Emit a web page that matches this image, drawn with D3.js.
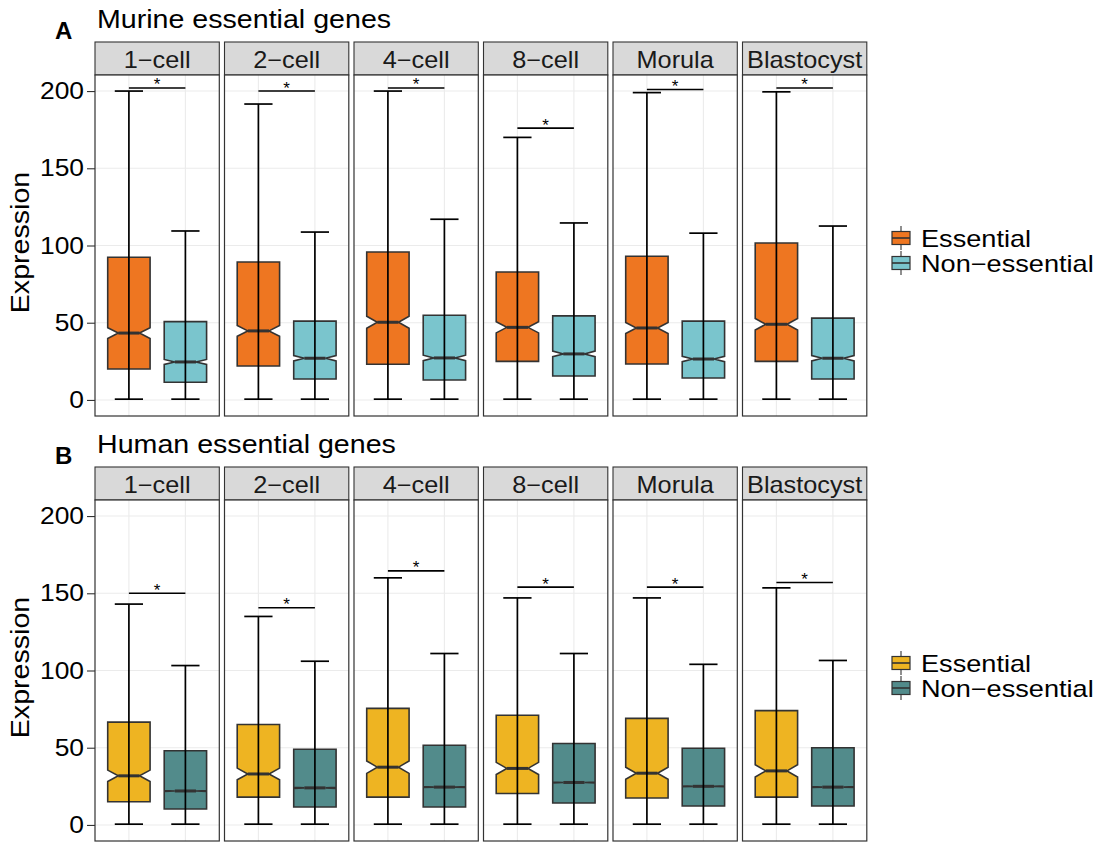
<!DOCTYPE html>
<html>
<head>
<meta charset="utf-8">
<script src="https://cdn.jsdelivr.net/npm/d3@7"></script>
<style>
body { margin: 0; background: #fff; }
text { font-family: "Liberation Sans", Arial, Helvetica, sans-serif; fill: #000; }
</style>
</head>
<body>
<svg id="chart" width="1102" height="842"></svg>
<script>
// stages (facets) and groups
var stages = ["1\u2212cell", "2\u2212cell", "4\u2212cell", "8\u2212cell", "Morula", "Blastocyst"];
var groups = ["Essential", "Non\u2212essential"];
var yTicks = [0, 50, 100, 150, 200];

// murine essential genes: box stats per stage
var murineEssLow   = [0.5, 0.5, 0.5, 0.5, 0.5, 0.5];
var murineEssQ1    = [20, 22, 23.1, 25, 23.3, 25];
var murineEssMed   = [43.3, 44.7, 50.3, 47, 46.6, 49];
var murineEssQ3    = [92.4, 89.3, 95.8, 82.8, 93, 101.6];
var murineEssHigh  = [200, 191.6, 200, 170, 199, 199.5];
var murineEssNotch = [3.5, 3.5, 3.9, 3.6, 3.6, 3.7];
var murineNonLow   = [0.5, 0.5, 0.5, 0.5, 0.5, 0.5];
var murineNonQ1    = [11.5, 13.6, 12.9, 15.5, 14.2, 13.6];
var murineNonMed   = [24.6, 27, 27.2, 29.8, 26.5, 27];
var murineNonQ3    = [50.7, 51, 54.8, 54.4, 51, 53];
var murineNonHigh  = [109.4, 108.7, 117, 114.6, 108, 112.6];
var murineNonNotch = [1.6, 1.7, 1.8, 1.8, 1.7, 1.7];
var murineSig      = [202, 200, 202, 176, 201, 202];

// human essential genes
var humanEssLow   = [0.5, 0.5, 0.5, 0.5, 0.5, 0.5];
var humanEssQ1    = [15, 18, 18, 20.4, 17.4, 18];
var humanEssMed   = [31.8, 33, 37.4, 36.6, 33.5, 35];
var humanEssQ3    = [66.6, 65, 75.5, 71, 69, 74];
var humanEssHigh  = [143, 135, 160, 147, 147, 153.5];
var humanEssNotch = [3.7, 3.8, 4, 3.9, 3.9, 4];
var humanNonLow   = [0.5, 0.5, 0.5, 0.5, 0.5, 0.5];
var humanNonQ1    = [10.3, 11.6, 11.6, 14.2, 12.3, 12.3];
var humanNonMed   = [22, 24, 24.5, 27.5, 25, 24.5];
var humanNonQ3    = [48, 49, 51.6, 52.7, 49.7, 50];
var humanNonHigh  = [103.2, 106, 111, 111, 104, 106.5];
var humanNonNotch = [0.3, 0.3, 0.3, 0.3, 0.3, 0.3];
var humanSig      = [150, 140.6, 164.5, 154, 154, 157];

var svg = d3.select("#chart");

var x0 = 95, pw = 124.3, gap = 5.2;
var stripH = 33, plotH = 341;
var stretch = 1.1;

function addText(g, x, y, str, size, anchor, weight, rot, sx)
{
	return g.append("text")
		.attr("transform", "translate(" + x + "," + y + ")" + (rot ? " rotate(" + rot + ")" : "") + " scale(" + (sx || stretch) + ",1)")
		.attr("text-anchor", anchor || "start")
		.style("font-size", size + "px")
		.style("font-weight", weight || "normal")
		.text(str);
}

function makeStats(low, q1, med, q3, high, notch)
{
	return stages.map(function(s, i){
		return {low: low[i], q1: q1[i], med: med[i], q3: q3[i], high: high[i], notch: notch[i]};
	});
}

function render_row(top, letter, title, ess, non, sig, colors)
{
	var plotTop = top + stripH, plotBottom = plotTop + plotH;

	var y = d3.scaleLinear().domain([-10.4, 210.4]).range([plotBottom, plotTop]);
	var xs = d3.scalePoint().domain(groups).range([0, pw]).padding(0.6);
	var step = xs.step();
	var boxW = step * 0.75, capW = step * 0.5;

	addText(svg, 55, top - 3, letter, 24, "start", "bold", 0, 1.0);
	addText(svg, 97, top - 14, title, 26);

	// y axis
	var axis = svg.append("g")
		.attr("transform", "translate(" + x0 + ",0)")
		.call(d3.axisLeft(y).tickValues(yTicks).tickSize(8).tickPadding(2));
	axis.select(".domain").remove();
	axis.selectAll(".tick line").attr("stroke", "#333").attr("stroke-width", 1.1);
	axis.selectAll(".tick text")
		.attr("fill", "#000")
		.style("font-size", "24px")
		.attr("transform", "scale(" + stretch + ",1)");

	addText(svg, 29, (plotTop + plotBottom) / 2 - 3, "Expression", 26, "middle", "normal", -90);

	stages.forEach(function(stage, i){
		var px = x0 + i * (pw + gap);
		var g = svg.append("g").attr("transform", "translate(" + px + ",0)");

		// strip
		g.append("rect")
			.attr("x", 0).attr("y", top)
			.attr("width", pw).attr("height", stripH)
			.style("fill", "#D9D9D9")
			.style("stroke", "#333")
			.style("stroke-width", 1.1);
		addText(g, pw / 2, top + 25.5, stage, 23, "middle").style("fill", "#1A1A1A");

		// panel + grid
		g.append("rect")
			.attr("x", 0).attr("y", plotTop)
			.attr("width", pw).attr("height", plotH)
			.style("fill", "#FFF");
		g.selectAll("line.hgrid")
			.data(yTicks)
			.enter()
			.append("line")
			.attr("class", "hgrid")
			.attr("x1", 0).attr("x2", pw)
			.attr("y1", function(d){ return y(d); })
			.attr("y2", function(d){ return y(d); })
			.style("stroke", "#EBEBEB")
			.style("stroke-width", 1.1);
		g.selectAll("line.vgrid")
			.data(groups)
			.enter()
			.append("line")
			.attr("class", "vgrid")
			.attr("x1", function(d){ return xs(d); })
			.attr("x2", function(d){ return xs(d); })
			.attr("y1", plotTop).attr("y2", plotBottom)
			.style("stroke", "#EBEBEB")
			.style("stroke-width", 1.1);

		var boxes = [
			{grp: groups[0], st: ess[i], fill: colors[0]},
			{grp: groups[1], st: non[i], fill: colors[1]}
		];

		// notched boxes
		g.selectAll("path.box")
			.data(boxes)
			.enter()
			.append("path")
			.attr("class", "box")
			.attr("d", function(d){
				var xl = xs(d.grp) - boxW / 2, xr = xs(d.grp) + boxW / 2;
				var ind = (xr - xl) * 0.25;
				var s = d.st;
				return "M" + xl + "," + y(s.q3) +
					"L" + xr + "," + y(s.q3) +
					"L" + xr + "," + y(s.med + s.notch) +
					"L" + (xr - ind) + "," + y(s.med) +
					"L" + xr + "," + y(s.med - s.notch) +
					"L" + xr + "," + y(s.q1) +
					"L" + xl + "," + y(s.q1) +
					"L" + xl + "," + y(s.med - s.notch) +
					"L" + (xl + ind) + "," + y(s.med) +
					"L" + xl + "," + y(s.med + s.notch) + "Z";
			})
			.style("fill", function(d){ return d.fill; })
			.style("stroke", "#333")
			.style("stroke-width", 1.6);

		g.selectAll("line.median")
			.data(boxes)
			.enter()
			.append("line")
			.attr("class", "median")
			.attr("x1", function(d){ return xs(d.grp) - boxW / 4; })
			.attr("x2", function(d){ return xs(d.grp) + boxW / 4; })
			.attr("y1", function(d){ return y(d.st.med); })
			.attr("y2", function(d){ return y(d.st.med); })
			.style("stroke", "#333")
			.style("stroke-width", 3);

		// whiskers (error bars)
		g.selectAll("line.whisk")
			.data(boxes)
			.enter()
			.append("line")
			.attr("class", "whisk")
			.attr("x1", function(d){ return xs(d.grp); })
			.attr("x2", function(d){ return xs(d.grp); })
			.attr("y1", function(d){ return y(d.st.low); })
			.attr("y2", function(d){ return y(d.st.high); })
			.style("stroke", "#000")
			.style("stroke-width", 1.7);
		["low", "high"].forEach(function(k){
			g.selectAll("line.cap-" + k)
				.data(boxes)
				.enter()
				.append("line")
				.attr("class", "cap-" + k)
				.attr("x1", function(d){ return xs(d.grp) - capW / 2; })
				.attr("x2", function(d){ return xs(d.grp) + capW / 2; })
				.attr("y1", function(d){ return y(d.st[k]); })
				.attr("y2", function(d){ return y(d.st[k]); })
				.style("stroke", "#000")
				.style("stroke-width", 1.7);
		});

		// significance bar
		g.append("line")
			.attr("x1", xs(groups[0])).attr("x2", xs(groups[1]))
			.attr("y1", y(sig[i])).attr("y2", y(sig[i]))
			.style("stroke", "#000")
			.style("stroke-width", 1.6);
		addText(g, (xs(groups[0]) + xs(groups[1])) / 2, y(sig[i]) + 2.5, "*", 17, "middle", "normal", 0, 1.0);

		// panel border
		g.append("rect")
			.attr("x", 0).attr("y", plotTop)
			.attr("width", pw).attr("height", plotH)
			.style("fill", "none")
			.style("stroke", "#333")
			.style("stroke-width", 1.2);
	});

	// legend
	var legMid = (plotTop + plotBottom) / 2 + 5;
	groups.forEach(function(grp, k){
		var cy = legMid + (k - 0.5) * 25;
		var lg = svg.append("g").attr("transform", "translate(901," + cy + ")");
		lg.append("line")
			.attr("x1", 0).attr("x2", 0)
			.attr("y1", -12).attr("y2", 12)
			.style("stroke", "#333")
			.style("stroke-width", 1.1);
		lg.append("rect")
			.attr("x", -9).attr("y", -6.5)
			.attr("width", 18).attr("height", 13)
			.style("fill", colors[k])
			.style("stroke", "#333")
			.style("stroke-width", 1.2);
		lg.append("line")
			.attr("x1", -9).attr("x2", 9)
			.attr("y1", 0).attr("y2", 0)
			.style("stroke", "#333")
			.style("stroke-width", 1.6);
		addText(svg, 921, cy + 8.5, grp, 23, "start", "normal", 0, 1.18);
	});
}

render_row(42, "A", "Murine essential genes",
	makeStats(murineEssLow, murineEssQ1, murineEssMed, murineEssQ3, murineEssHigh, murineEssNotch),
	makeStats(murineNonLow, murineNonQ1, murineNonMed, murineNonQ3, murineNonHigh, murineNonNotch),
	murineSig, ["#EE7621", "#7AC5CD"]);

render_row(467, "B", "Human essential genes",
	makeStats(humanEssLow, humanEssQ1, humanEssMed, humanEssQ3, humanEssHigh, humanEssNotch),
	makeStats(humanNonLow, humanNonQ1, humanNonMed, humanNonQ3, humanNonHigh, humanNonNotch),
	humanSig, ["#EEB422", "#528B8B"]);
</script>
</body>
</html>
